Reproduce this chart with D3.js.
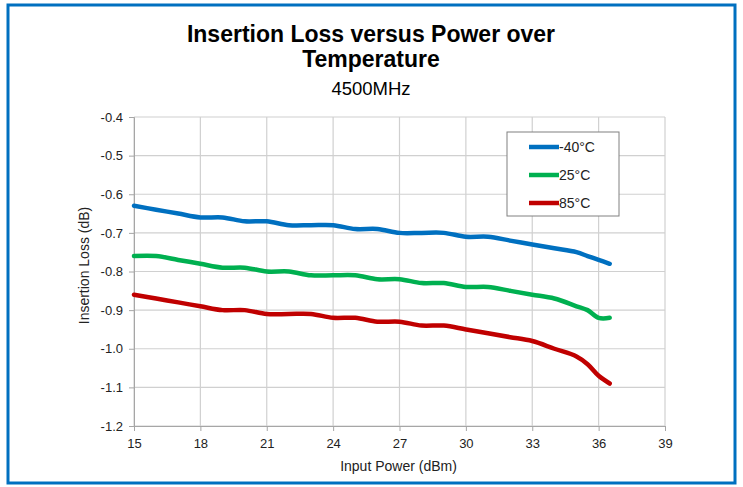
<!DOCTYPE html>
<meta charset="utf-8">
<style>
body { margin: 0; background: #fff; font-family: Arial, "Liberation Sans", sans-serif; }
.grid line { stroke: #d0d0d0; stroke-width: 1.2px; }
.axis path, .axis line { stroke: #a6a6a6; }
.axis text { font-size: 13px; fill: #222; font-family: Arial, "Liberation Sans", sans-serif; }
.legend text { font-size: 14px; fill: #222; }
</style>
<body>
<svg id="svg" width="743" height="487"></svg>
<script src="https://cdn.jsdelivr.net/npm/d3@7/dist/d3.min.js"></script>
<script>
// input power (dBm)
const power = [15, 16, 17, 18, 19, 20, 21, 22, 23, 24, 25, 26, 27, 28, 29, 30, 31, 32, 33, 34, 35, 35.5, 36, 36.5];
// insertion loss (dB) per temperature
const lossM40 = [-0.63, -0.64, -0.65, -0.66, -0.66, -0.67, -0.67, -0.68, -0.68, -0.68, -0.69, -0.69, -0.70, -0.70, -0.70, -0.71, -0.71, -0.72, -0.73, -0.74, -0.75, -0.76, -0.77, -0.78];
const loss25 = [-0.76, -0.76, -0.77, -0.78, -0.79, -0.79, -0.80, -0.80, -0.81, -0.81, -0.81, -0.82, -0.82, -0.83, -0.83, -0.84, -0.84, -0.85, -0.86, -0.87, -0.89, -0.90, -0.92, -0.92];
const loss85 = [-0.86, -0.87, -0.88, -0.89, -0.90, -0.90, -0.91, -0.91, -0.91, -0.92, -0.92, -0.93, -0.93, -0.94, -0.94, -0.95, -0.96, -0.97, -0.98, -1.00, -1.02, -1.04, -1.07, -1.09];
const seriesNames = ["-40°C", "25°C", "85°C"];
const seriesColors = ["#0070c0", "#00b050", "#c00000"];
const xTicks = [15, 18, 21, 24, 27, 30, 33, 36, 39];
const yTicks = [-0.4, -0.5, -0.6, -0.7, -0.8, -0.9, -1.0, -1.1, -1.2];

const svg = d3.select("#svg");

// outer blue frame
svg.append("rect")
  .attr("x", 8).attr("y", 5).attr("width", 727).attr("height", 478)
  .attr("fill", "none").attr("stroke", "#0070c0").attr("stroke-width", 3);

const margin = {top: 117, left: 134, right: 78, bottom: 61};
const width = 743 - margin.left - margin.right,
      height = 487 - margin.top - margin.bottom;

const x = d3.scaleLinear().domain([15, 39]).range([0, width]);
const y = d3.scaleLinear().domain([-1.2, -0.4]).range([height, 0]);

const g = svg.append("g").attr("transform", "translate(" + margin.left + "," + margin.top + ")");

// gridlines
g.append("g").attr("class", "grid")
  .selectAll("line").data(yTicks).enter().append("line")
  .attr("x1", 0).attr("x2", width)
  .attr("y1", d => y(d)).attr("y2", d => y(d));
g.append("g").attr("class", "grid")
  .selectAll("line").data(xTicks).enter().append("line")
  .attr("y1", 0).attr("y2", height)
  .attr("x1", d => x(d)).attr("x2", d => x(d));

// axes (plain hyphen minus like the original)
g.append("g").attr("class", "axis")
  .attr("transform", "translate(0," + height + ")")
  .call(d3.axisBottom(x).tickValues(xTicks).tickSize(5).tickPadding(8).tickFormat(d => d.toString()));
g.append("g").attr("class", "axis")
  .call(d3.axisLeft(y).tickValues(yTicks).tickSize(5).tickPadding(6).tickFormat(d => d.toFixed(1)));

// smoothed lines, like Excel's smoothed scatter
const allSeries = [lossM40, loss25, loss85];
const line = d3.line()
  .x(d => x(d[0]))
  .y(d => y(d[1]))
  .curve(d3.curveCatmullRom.alpha(0.5));

allSeries.forEach((vals, i) => {
  g.append("path")
    .datum(power.map((p, j) => [p, vals[j]]))
    .attr("fill", "none")
    .attr("stroke", seriesColors[i])
    .attr("stroke-width", 4.5)
    .attr("stroke-linejoin", "round")
    .attr("stroke-linecap", "round")
    .attr("d", line);
});

// titles
svg.append("text").attr("x", 371).attr("y", 42).attr("text-anchor", "middle")
  .attr("font-size", 23).attr("font-weight", "bold").text("Insertion Loss versus Power over");
svg.append("text").attr("x", 371).attr("y", 67).attr("text-anchor", "middle")
  .attr("font-size", 23).attr("font-weight", "bold").text("Temperature");
svg.append("text").attr("x", 371).attr("y", 95).attr("text-anchor", "middle")
  .attr("font-size", 18.5).text("4500MHz");

// axis titles
svg.append("text").attr("x", margin.left + width / 2 - 1).attr("y", 471)
  .attr("text-anchor", "middle").attr("font-size", 14).attr("fill", "#222")
  .text("Input Power (dBm)");
svg.append("text")
  .attr("transform", "translate(89," + (margin.top + height / 2 - 6) + ")rotate(-90)")
  .attr("text-anchor", "middle").attr("font-size", 14).attr("fill", "#222")
  .text("Insertion Loss (dB)");

// legend
const legend = svg.append("g").attr("class", "legend").attr("transform", "translate(507,132)");
legend.append("rect").attr("width", 112).attr("height", 84)
  .attr("fill", "#fff").attr("stroke", "#808080").attr("stroke-width", 1);
const items = legend.selectAll(".item").data(seriesNames).enter().append("g")
  .attr("transform", (d, i) => "translate(0," + (15 + i * 28) + ")");
items.append("line").attr("x1", 22).attr("x2", 52).attr("y1", 0).attr("y2", 0)
  .attr("stroke", (d, i) => seriesColors[i]).attr("stroke-width", 4.5);
items.append("text").attr("x", 52).attr("y", 0).attr("dy", "0.35em").text(d => d);
</script>
</body>
